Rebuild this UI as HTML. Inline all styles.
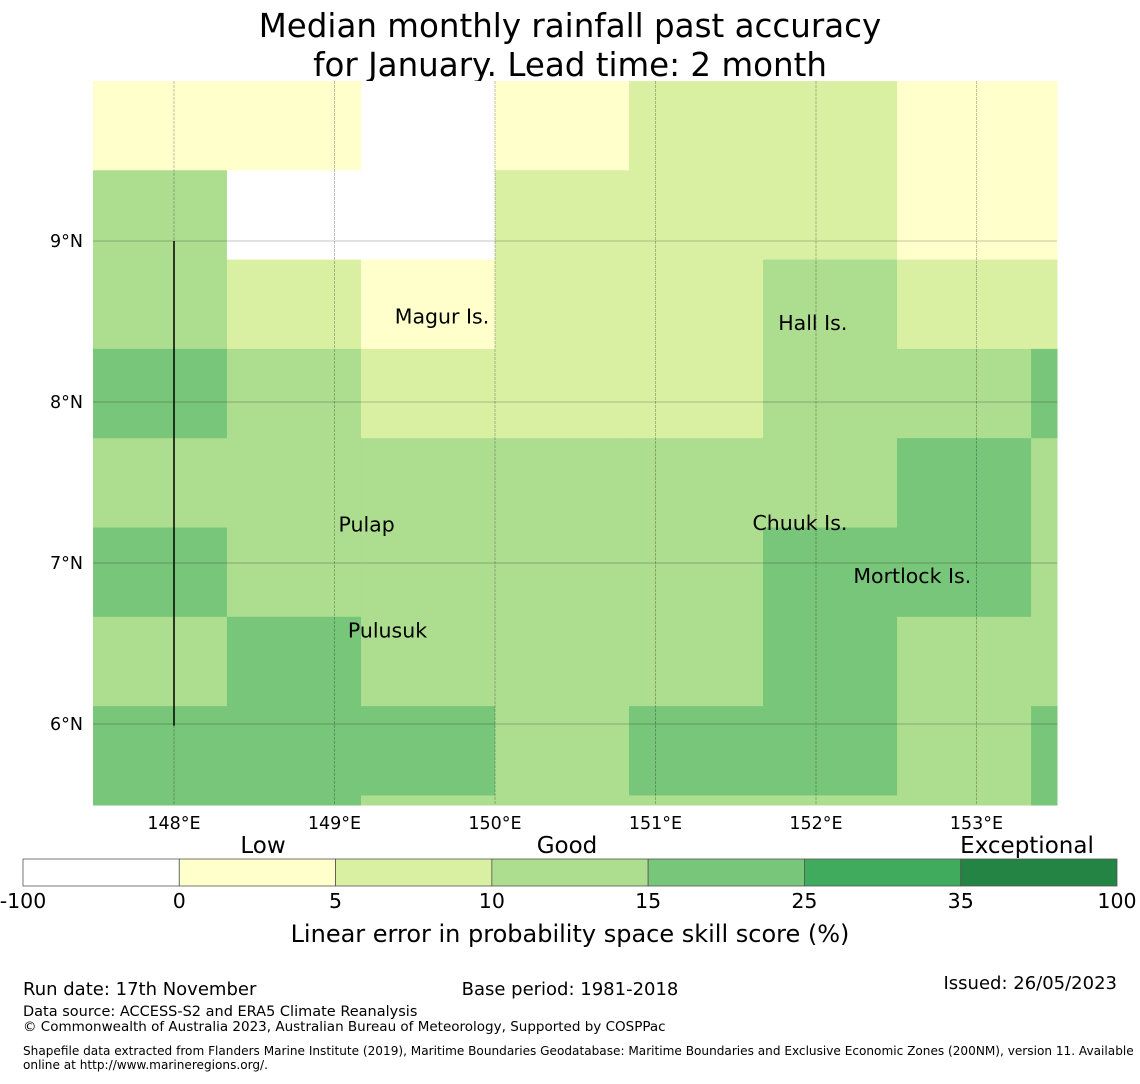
<!DOCTYPE html>
<html><head><meta charset="utf-8"><style>
body{margin:0;background:#fff;width:1140px;height:1080px;overflow:hidden;font-family:"DejaVu Sans","Liberation Sans",sans-serif}
</style></head><body>
<svg id="s" width="1140" height="1080" xmlns="http://www.w3.org/2000/svg" font-family="DejaVu Sans, Liberation Sans, sans-serif">
<text x="570" y="37" font-size="32.5" text-anchor="middle">Median monthly rainfall past accuracy</text>
<text x="570" y="76" font-size="32.5" text-anchor="middle">for January. Lead time: 2 month</text>
<g id="map"></g>
<g id="grid"></g>
<g id="cb"></g>
<text x="263" y="853" font-size="23" text-anchor="middle">Low</text>
<text x="567" y="853" font-size="23" text-anchor="middle">Good</text>
<text x="1027" y="853" font-size="23" text-anchor="middle">Exceptional</text>
<text x="570" y="942" font-size="24" text-anchor="middle">Linear error in probability space skill score (%)</text>
<text x="23" y="995" font-size="18">Run date: 17th November</text>
<text x="570" y="995" font-size="18" text-anchor="middle">Base period: 1981-2018</text>
<text x="1117" y="989" font-size="18" text-anchor="end">Issued: 26/05/2023</text>
<text x="23" y="1016" font-size="14.5">Data source: ACCESS-S2 and ERA5 Climate Reanalysis</text>
<text x="23" y="1031" font-size="13.5">© Commonwealth of Australia 2023, Australian Bureau of Meteorology, Supported by COSPPac</text>
<text x="23" y="1055" font-size="12.1">Shapefile data extracted from Flanders Marine Institute (2019), Maritime Boundaries Geodatabase: Maritime Boundaries and Exclusive Economic Zones (200NM), version 11. Available</text>
<text x="23" y="1069" font-size="12.1">online at http://www.marineregions.org/.</text>
</svg>
<script>
const lonTicks=[148,149,150,151,152,153];
const latTicks=[9,8,7,6];
const lon0=147.495, dlon=0.835, lat0=9.994, dlat=0.5547;
// skill score per cell, rows top->bottom
const row0=[3,3,-5,3,7,7,3,3];
const row1=[12,-5,-5,7,7,7,3,3];
const row2=[12,7,3,7,7,12,7,7];
const row3=[20,12,7,7,7,12,12,20];
const row4=[12,12,12,12,12,12,20,12];
const row5=[20,12,12,12,12,20,20,12];
const row6=[12,20,12,12,12,20,12,12];
const row7=[20,20,20,12,20,20,12,20];
const row8=[20,20,12,12,12,12,12,20];
const rows=[row0,row1,row2,row3,row4,row5,row6,row7,row8];
const binEdges=[-100,0,5,10,15,25,35,100];
const binColors=["#ffffff","#ffffcc","#d9f0a3","#addd8e","#78c679","#41ab5d","#238443"];
const islands=[["Magur Is.",149.67,8.53],["Hall Is.",151.98,8.49],["Pulap",149.2,7.24],["Chuuk Is.",151.9,7.25],["Mortlock Is.",152.6,6.92],["Pulusuk",149.33,6.58]];
const X=lon=>174+(lon-148)*160.5, Y=lat=>241+(9-lat)*161;
const xmin=93,xmax=1057,ymin=81,ymax=805;
const NS="http://www.w3.org/2000/svg";
function mk(t,a,p){const e=document.createElementNS(NS,t);for(const k in a)e.setAttribute(k,a[k]);p.appendChild(e);return e;}
function col(v){for(let i=0;i<binColors.length;i++)if(v<binEdges[i+1])return binColors[i];return binColors[binColors.length-1];}
const map=document.getElementById('map');
rows.forEach((r,ri)=>r.forEach((v,ci)=>{
 const x1=Math.max(xmin,X(lon0+ci*dlon)),x2=Math.min(xmax,X(lon0+(ci+1)*dlon));
 const y1=Math.max(ymin,Y(lat0-ri*dlat)),y2=Math.min(ymax,Y(lat0-(ri+1)*dlat));
 if(x2<=x1||y2<=y1)return;
 const e=mk('rect',{x:x1,y:y1,width:x2-x1+0.5,height:y2-y1+0.5,fill:col(v)},map);
 
 
}));
const g=document.getElementById('grid');
lonTicks.forEach(l=>{
 const e=mk('line',{x1:X(l),x2:X(l),y1:ymin,y2:ymax,stroke:"#000","stroke-opacity":0.3,"stroke-width":0.8,"stroke-dasharray":"3,1"},g);
 
 const t=mk('text',{x:X(l),y:829,"font-size":17.5,"text-anchor":"middle"},g);t.textContent=l+"°E";
 
});
latTicks.forEach(l=>{
 const e=mk('line',{x1:xmin,x2:xmax,y1:Y(l),y2:Y(l),stroke:"#000","stroke-opacity":0.3,"stroke-width":0.8},g);
 
 const t=mk('text',{x:83,y:Y(l)+6,"font-size":17.5,"text-anchor":"end"},g);t.textContent=l+"°N";
 
});
const bl=mk('line',{x1:X(148),x2:X(148),y1:Y(9),y2:Y(5.99),stroke:"#000","stroke-width":1.5},g);

islands.forEach(d=>{
 const t=mk('text',{x:X(d[1]),y:Y(d[2])+7,"font-size":20.5,"text-anchor":"middle"},g);t.textContent=d[0];
 
});
const cb=document.getElementById('cb');const cx0=23,cw=1094/7;
binColors.forEach((c,i)=>{
 const r=mk('rect',{x:cx0+i*cw,y:859,width:cw,height:27,fill:c,stroke:"#555","stroke-width":0.8},cb);
 
});
binEdges.forEach((v,i)=>{
 const t=mk('text',{x:cx0+i*cw,y:908,"font-size":20.5,"text-anchor":"middle"},cb);t.textContent=v;
 
});
</script>
</body></html>
